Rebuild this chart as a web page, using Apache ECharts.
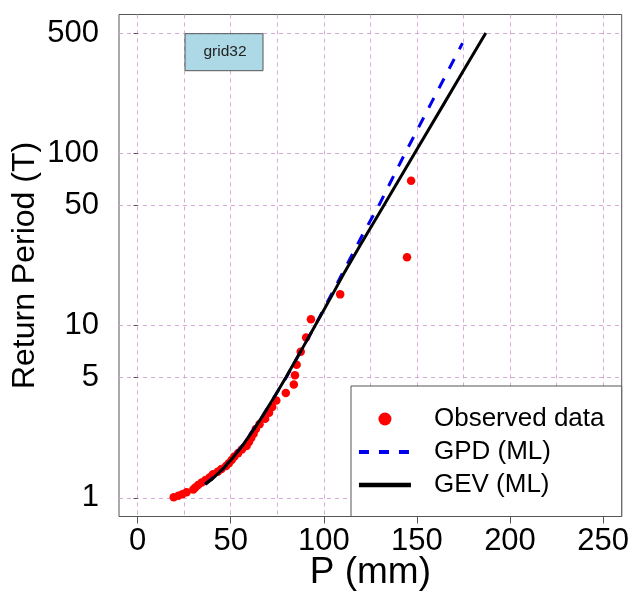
<!DOCTYPE html>
<html><head><meta charset="utf-8">
<script src="https://cdn.jsdelivr.net/npm/echarts@6/dist/echarts.min.js"></script>
<style>html,body{margin:0;padding:0;background:#fff}#c{width:633px;height:594px}</style>
</head><body><div id="c"></div>
<script>
// Observed data: precipitation (mm) and return period (years)
const obsP = [146.9, 144.7, 108.8, 93.1, 90.5, 87.6, 85.4, 84.5, 83.9, 79.6, 74.5, 72.3, 70.6, 68.5, 65.5, 63.5, 62.3, 61.0, 59.8, 58.5, 56.0, 54.0, 52.0, 50.5, 49.0, 47.5, 45.0, 43.0, 40.5, 38.8, 36.5, 34.4, 32.5, 31.0, 29.9, 26.3, 24.0, 21.9, 19.4];
const obsT = [69.5, 25.0, 15.2, 10.9, 8.55, 7.05, 5.93, 5.15, 4.55, 4.07, 3.68, 3.37, 3.12, 2.88, 2.68, 2.51, 2.36, 2.23, 2.11, 2.0, 1.91, 1.82, 1.74, 1.66, 1.59, 1.53, 1.47, 1.42, 1.37, 1.32, 1.27, 1.23, 1.19, 1.15, 1.12, 1.08, 1.05, 1.03, 1.01];
// GPD (ML) fitted return levels
const gpdP = [36.3, 46.5, 56.1, 67.2, 79.8, 95.3, 107.3, 121.6, 129.6, 143.6, 158.1, 174.5];
const gpdT = [1.2, 1.5, 2, 3, 5, 10, 17.7, 35, 50, 100, 200, 437];
// GEV (ML) fitted return levels
const gevP = [36.3, 40.5, 46.5, 50.9, 56.1, 62.4, 67.2, 74.3, 79.6, 87.3, 95.3, 104.4, 110.7, 120.1, 132.3, 148.7, 165.2, 174.8, 187.0];
const gevT = [1.2, 1.3, 1.5, 1.7, 2, 2.5, 3, 4, 5, 7, 10, 15, 20, 30, 50, 100, 200, 300, 500];
// Axis ticks
const xTickLabels = [0, 50, 100, 150, 200, 250];
const xGridValues = [0, 25, 50, 75, 100, 125, 150, 175, 200, 225, 250];
const yTickLabels = [1, 5, 10, 50, 100, 500];
const seriesNames = ['Observed data', 'GPD (ML)', 'GEV (ML)'];
const panelLabel = 'grid32';

const pair = (xs, ys) => xs.map((x, i) => [x, ys[i]]);
const FONT = "'Liberation Sans', Arial, sans-serif";
const GRIDC = '#d8a8d8';

const chart = echarts.init(document.getElementById('c'), null, {renderer: 'canvas'});
chart.setOption({
  animation: false,
  backgroundColor: '#fff',
  grid: {left: 119, top: 14.5, width: 502.7, height: 502, containLabel: false, outerBoundsMode: 'none',
         show: true, borderColor: '#555', borderWidth: 1, backgroundColor: 'transparent'},
  xAxis: [{
    type: 'value', min: -10, max: 260, position: 'bottom',
    axisLine: {show: false},
    axisTick: {show: true, inside: false, length: 7, customValues: xTickLabels, lineStyle: {color: '#555'}},
    axisLabel: {customValues: xTickLabels, fontSize: 31, color: '#000', fontFamily: FONT, margin: 9},
    splitLine: {show: false},
    name: 'P (mm)', nameLocation: 'middle', nameGap: 38, nameMoveOverlap: false,
    nameTextStyle: {fontSize: 37, color: '#000', fontFamily: FONT}
  }, {
    type: 'value', min: -10, max: 260, position: 'bottom',
    axisLine: {show: false},
    axisTick: {show: false, customValues: xGridValues},
    axisLabel: {show: false},
    splitLine: {show: true, lineStyle: {color: GRIDC, type: [4, 4], width: 1}}
  }],
  yAxis: {
    type: 'log', logBase: 10, min: 0.78, max: 641,
    axisLine: {show: false},
    axisTick: {show: true, inside: false, length: 4, customValues: yTickLabels, lineStyle: {color: '#555'}},
    axisLabel: {customValues: yTickLabels, fontSize: 31, color: '#000', fontFamily: FONT, margin: 20},
    splitLine: {show: true, lineStyle: {color: GRIDC, type: [4, 4], width: 1}},
    name: 'Return Period (T)', nameLocation: 'middle', nameGap: 78, nameMoveOverlap: false,
    nameTextStyle: {fontSize: 32, color: '#000', fontFamily: FONT}
  },
  legend: {
    orient: 'vertical', left: 351.7, top: 401, itemWidth: 52, itemHeight: 13, itemGap: 7,
    z: 200,
    data: [
      {name: seriesNames[0]},
      {name: seriesNames[1], itemStyle: {opacity: 0}, lineStyle: {width: 4, type: [10, 10]}},
      {name: seriesNames[2], itemStyle: {opacity: 0}, lineStyle: {width: 4.5}}
    ],
    textStyle: {fontSize: 26, color: '#000', fontFamily: FONT, padding: [0, 0, 0, 18]}
  },
  graphic: [
    {type: 'rect', z: 100, shape: {x: 185, y: 33.7, width: 78, height: 37}, style: {fill: '#add8e6', stroke: '#555', lineWidth: 1}},
    {type: 'text', z: 101, x: 225, y: 52.2, style: {text: panelLabel, fontSize: 15.5, fill: '#222', align: 'center', verticalAlign: 'middle', fontFamily: FONT}},
    {type: 'rect', z: 100, shape: {x: 351, y: 386, width: 270.7, height: 130.5}, style: {fill: '#fff', stroke: '#555', lineWidth: 1}}
  ],
  series: [{
    name: seriesNames[0], type: 'scatter', xAxisIndex: 0, data: pair(obsP, obsT),
    symbol: 'circle', symbolSize: 8.5, itemStyle: {color: '#ff0000', opacity: 1}, z: 2
  }, {
    name: seriesNames[1], type: 'line', xAxisIndex: 0, data: pair(gpdP, gpdT),
    symbol: 'none', lineStyle: {color: '#0000ee', width: 3, type: [11, 11]}, itemStyle: {color: '#0000ee'}, z: 3
  }, {
    name: seriesNames[2], type: 'line', xAxisIndex: 0, data: pair(gevP, gevT),
    symbol: 'none', lineStyle: {color: '#000', width: 3}, itemStyle: {color: '#000'}, z: 4
  }]
});
</script></body></html>
